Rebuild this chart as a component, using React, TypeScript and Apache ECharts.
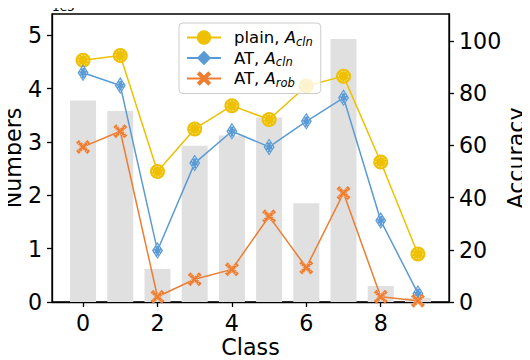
import React, { useEffect, useRef } from "react";
import * as echarts from "echarts";

const CLASSES = [0, 1, 2, 3, 4, 5, 6, 7, 8, 9];
const COUNTS = [3780, 3580, 620, 2930, 3120, 3460, 1850, 4930, 300, 80];
const PLAIN_CLN = [92.6, 94.4, 50.0, 66.3, 75.2, 69.9, 82.7, 86.5, 53.6, 18.4];
const AT_CLN = [87.8, 82.9, 19.7, 53.2, 65.4, 59.4, 69.2, 78.2, 31.2, 3.3];
const AT_ROB = [59.4, 65.4, 2.0, 8.7, 12.5, 32.8, 13.2, 41.7, 2.0, 0.5];
const X_TICKS = [0, 2, 4, 6, 8];
const LEFT_TICKS = [0, 1000, 2000, 3000, 4000, 5000];
const RIGHT_TICKS = [0, 20, 40, 60, 80, 100];

const FONT = "DejaVu Sans";
const GOLD = "#EEC000";
const BLUE = "#5B9BD5";
const ORANGE = "#ED7D31";
const X_PATH =
  "path://M2,0 L5,3 L8,0 L10,2 L7,5 L10,8 L8,10 L5,7 L2,10 L0,8 L3,5 L0,2 Z";

const NAMES = ["plain, A_cln", "AT, A_cln", "AT, A_rob"];
const LEGEND_RICH: Record<string, string> = {
  "plain, A_cln": "{t|plain, }{a|A}{s|cln}",
  "AT, A_cln": "{t|AT, }{a|A}{s|cln}",
  "AT, A_rob": "{t|AT, }{a|A}{s|rob}",
};

const pairs = (vals: number[]) => CLASSES.map((c, i) => [c, vals[i]]);

export default function App() {
  const ref = useRef<HTMLDivElement>(null);
  useEffect(() => {
    if (!ref.current) return;
    const chart = echarts.init(ref.current, undefined, { renderer: "svg" });
    const axisText = { fontFamily: FONT, fontSize: 22.2, color: "#000" };
    const tick = (vals: number[]) => ({
      show: true,
      customValues: vals,
      length: 5,
      lineStyle: { color: "#000", width: 1.3 },
    });
    const axisLine = {
      show: true,
      onZero: false,
      lineStyle: { color: "#000", width: 1.3 },
    };
    const lineSeries = (
      name: string,
      vals: number[],
      color: string,
      symbol: string,
      size: any
    ) => ({
      name,
      type: "line",
      xAxisIndex: 0,
      yAxisIndex: 1,
      data: pairs(vals),
      symbol,
      symbolSize: size,
      showAllSymbol: true,
      lineStyle: { color, width: 1.5 },
      itemStyle: { color },
      z: 3,
    });
    const ringSeries = (vals: number[], symbol: string, size: any) => ({
      name: "_ring_" + symbol + String(size),
      type: "scatter",
      xAxisIndex: 0,
      yAxisIndex: 1,
      data: pairs(vals),
      symbol,
      symbolSize: size,
      silent: true,
      itemStyle: {
        color: "rgba(0,0,0,0)",
        borderColor: "#ffffff",
        borderWidth: 0.8,
        borderType: [1.5, 1.5],
      },
      z: 3,
    });
    chart.setOption({
      animation: false,
      grid: {
        left: 52,
        right: 81,
        top: 14,
        bottom: 58,
        show: true,
        borderColor: "#000",
        borderWidth: 1.3,
        backgroundColor: "transparent",
        containLabel: false,
        outerBoundsMode: "none",
      },
      xAxis: {
        type: "value",
        min: -0.835,
        max: 9.835,
        splitLine: { show: false },
        axisLine,
        axisTick: tick(X_TICKS),
        axisLabel: { ...axisText, customValues: X_TICKS, margin: 10 },
        name: "Class",
        nameLocation: "middle",
        nameGap: 35,
        nameMoveOverlap: false,
        nameTextStyle: { ...axisText, lineHeight: 20 },
      },
      yAxis: [
        {
          type: "value",
          min: 0,
          max: 5400,
          position: "left",
          splitLine: { show: false },
          axisLine,
          axisTick: tick(LEFT_TICKS),
          axisLabel: {
            ...axisText,
            customValues: LEFT_TICKS,
            margin: 10,
            formatter: (v: number) => String(v / 1000),
          },
          name: "Numbers",
          nameLocation: "middle",
          nameGap: 28,
          nameMoveOverlap: false,
          nameTextStyle: axisText,
        },
        {
          type: "value",
          min: 0,
          max: 110.3,
          position: "right",
          splitLine: { show: false },
          axisLine,
          axisTick: tick(RIGHT_TICKS),
          axisLabel: { ...axisText, customValues: RIGHT_TICKS, margin: 10 },
          name: "Accuracy",
          nameLocation: "middle",
          nameGap: 56,
          nameMoveOverlap: false,
          nameTextStyle: axisText,
        },
      ],
      legend: {
        data: NAMES,
        orient: "vertical",
        left: 179,
        top: 23,
        itemWidth: 34,
        itemHeight: 18,
        itemGap: 2,
        padding: [6, 8, 5, 7],
        backgroundColor: "rgba(255,255,255,0.8)",
        borderColor: "#cccccc",
        borderWidth: 1,
        borderRadius: 4,
        selectedMode: false,
        formatter: (n: string) => LEGEND_RICH[n] || n,
        textStyle: {
          fontFamily: FONT,
          fontSize: 16.5,
          color: "#000",
          rich: {
            t: {
              fontFamily: FONT,
              fontSize: 16.5,
              color: "#000",
              lineHeight: 20,
              padding: [0, 0, 0, 8],
            },
            a: {
              fontFamily: FONT,
              fontSize: 16.5,
              fontStyle: "italic",
              color: "#000",
              lineHeight: 20,
            },
            s: {
              fontFamily: FONT,
              fontSize: 11.5,
              fontStyle: "italic",
              color: "#000",
              lineHeight: 12,
              verticalAlign: "bottom",
            },
          },
        },
      },
      graphic: [
        {
          type: "text",
          x: 52,
          y: 1,
          z: 10,
          style: {
            text: "1e3",
            fontFamily: FONT,
            fontSize: 12,
            fill: "#000",
            align: "left",
            verticalAlign: "top",
          },
        },
      ],
      series: [
        {
          name: "_counts",
          type: "bar",
          xAxisIndex: 0,
          yAxisIndex: 0,
          data: pairs(COUNTS),
          barWidth: 26,
          itemStyle: { color: "#E0E0E0" },
          silent: true,
          z: 1,
        },
        lineSeries(NAMES[0], PLAIN_CLN, GOLD, "circle", 15),
        ringSeries(PLAIN_CLN, "circle", 10),
        lineSeries(NAMES[1], AT_CLN, BLUE, "diamond", [11, 17]),
        ringSeries(AT_CLN, "diamond", [7, 12]),
        lineSeries(NAMES[2], AT_ROB, ORANGE, X_PATH, 14),
        ringSeries(AT_ROB, X_PATH, 10),
      ],
    });
    return () => chart.dispose();
  }, []);
  return <div ref={ref} style={{ width: 530, height: 360, marginLeft: -8, marginTop: -8 }} />;
}
